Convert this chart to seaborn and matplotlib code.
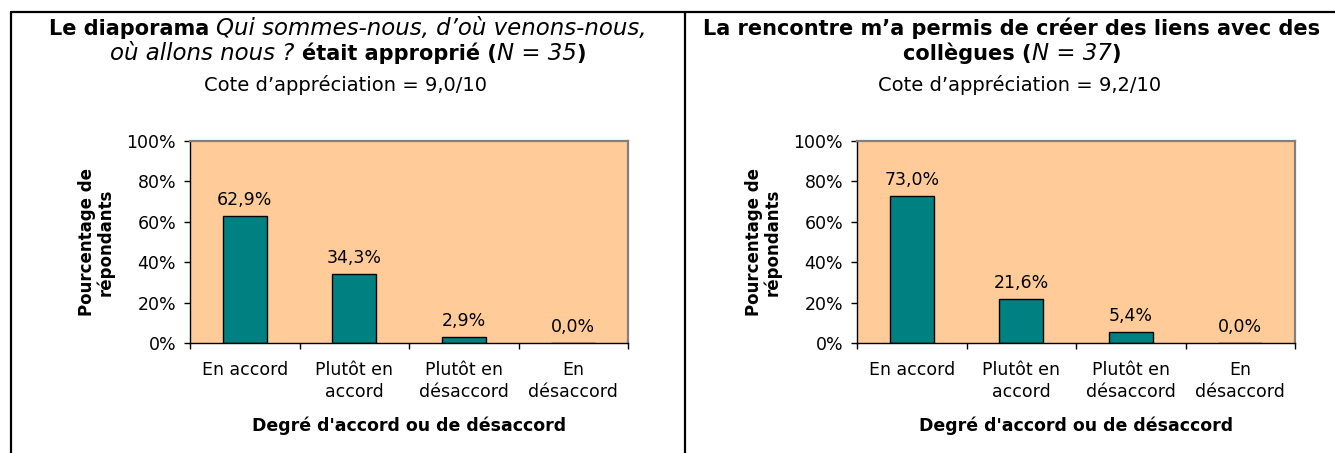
import matplotlib
matplotlib.use('Agg')
import matplotlib.pyplot as plt
import seaborn as sns
from matplotlib.lines import Line2D
from matplotlib.ticker import FixedLocator, FuncFormatter

# données
categories = ['En accord', 'Plutôt en\naccord', 'Plutôt en\ndésaccord', 'En\ndésaccord']
vals_diaporama = [62.9, 34.3, 2.9, 0.0]
vals_rencontre = [73.0, 21.6, 5.4, 0.0]
cote_diaporama = '9,0/10'
cote_rencontre = '9,2/10'

sns.set_style('white')
plt.rcParams['font.family'] = ['DejaVu Sans']
for k in ['text.color', 'axes.labelcolor', 'xtick.color', 'ytick.color']:
    plt.rcParams[k] = 'black'

W, H = 1335, 453
fig = plt.figure(figsize=(W / 100, H / 100), dpi=100)
renderer = fig.canvas.get_renderer()


def add_ax(x0, y0, x1, y1):
    return fig.add_axes([x0 / W, 1 - y1 / H, (x1 - x0) / W, (y1 - y0) / H])


def text_width(s, size, weight, style):
    t = fig.text(0, 0, s, fontsize=size, fontweight=weight, fontstyle=style)
    w = t.get_window_extent(renderer).width
    t.remove()
    return w


def rich_line(xc, yb, parts):
    # parts : (texte, taille, graisse, style, espace_apres)
    items = []
    total = 0
    for s, size, wgt, sty, sp in parts:
        w = text_width(s, size, wgt, sty)
        gap = 0
        if sp:
            gap = text_width('x x', size, wgt, sty) - text_width('xx', size, wgt, sty)
        items.append((s, size, wgt, sty, w, gap))
        total += w + gap
    x = xc - total / 2
    for s, size, wgt, sty, w, gap in items:
        fig.text(x / W, 1 - yb / H, s, fontsize=size, fontweight=wgt,
                 fontstyle=sty, va='baseline', ha='left')
        x += w + gap


def draw_panel(ax, vals):
    ax.set_facecolor('#FFCC99')
    sns.barplot(x=categories, y=vals, ax=ax, color='#008080', saturation=1,
                edgecolor='black', linewidth=1, width=0.4)
    ax.set_ylim(0, 100)
    ax.set_xlim(-0.5, 3.5)
    ax.yaxis.set_major_locator(FixedLocator([0, 20, 40, 60, 80, 100]))
    ax.yaxis.set_major_formatter(FuncFormatter(lambda v, p: f'{v:.0f}%'))
    ax.tick_params(axis='y', which='major', direction='out', length=4, width=1,
                   labelsize=12.5, left=True, pad=6)
    ax.tick_params(axis='x', which='major', length=0, labelsize=12.5, pad=13)
    ax.set_xticks(range(len(categories)))
    ax.set_xticklabels(categories, linespacing=1.3)
    ax.xaxis.set_minor_locator(FixedLocator([-0.5, 0.5, 1.5, 2.5, 3.5]))
    ax.tick_params(axis='x', which='minor', direction='out', length=4, width=1,
                   bottom=True)
    for side in ['left', 'bottom']:
        ax.spines[side].set_color('black')
        ax.spines[side].set_linewidth(1)
    for side in ['top', 'right']:
        ax.spines[side].set_color('#808080')
        ax.spines[side].set_linewidth(1.6)
    labels = [f'{v:.1f}%'.replace('.', ',') for v in vals]
    ax.bar_label(ax.containers[0], labels=labels, padding=5, fontsize=12.5)
    ax.set_ylabel('Pourcentage de\nrépondants', fontsize=12, fontweight='bold',
                  linespacing=1.0)
    ax.yaxis.set_label_coords(-0.173, 0.5)
    ax.set_xlabel("Degré d'accord ou de désaccord", fontsize=12.5, fontweight='bold')
    ax.xaxis.set_label_coords(0.5, -0.365)
    ax.xaxis.label.set_va('top')


ax1 = add_ax(190, 141, 628, 343)
draw_panel(ax1, vals_diaporama)
ax2 = add_ax(857, 141, 1295, 343)
draw_panel(ax2, vals_rencontre)

# titres
tb, ti = 15, 16.5
rich_line(348, 35, [('Le diaporama', tb, 'bold', 'normal', True),
                    ('Qui sommes-nous, d’où venons-nous,', ti, 'normal', 'italic', False)])
rich_line(348, 60, [('où allons nous ?', ti, 'normal', 'italic', True),
                    ('était approprié (', tb, 'bold', 'normal', False),
                    ('N = 35', ti, 'normal', 'italic', False),
                    (')', tb, 'bold', 'normal', False)])
fig.text(346 / W, 1 - 91 / H, 'Cote d’appréciation = ' + cote_diaporama,
         ha='center', va='baseline', fontsize=14)

rich_line(1012, 35, [('La rencontre m’a permis de créer des liens avec des', tb, 'bold', 'normal', False)])
rich_line(1012, 60, [('collègues (', tb, 'bold', 'normal', False),
                     ('N = 37', ti, 'normal', 'italic', False),
                     (')', tb, 'bold', 'normal', False)])
fig.text(1020 / W, 1 - 91 / H, 'Cote d’appréciation = ' + cote_rencontre,
         ha='center', va='baseline', fontsize=14)

# cadre
for xs, ys in [([11, 1335], [12, 12]), ([11, 11], [12, 453]), ([685, 685], [12, 453])]:
    fig.add_artist(Line2D([x / W for x in xs], [1 - y / H for y in ys],
                          color='black', linewidth=1.6))

fig.savefig('out.png', dpi=100)
